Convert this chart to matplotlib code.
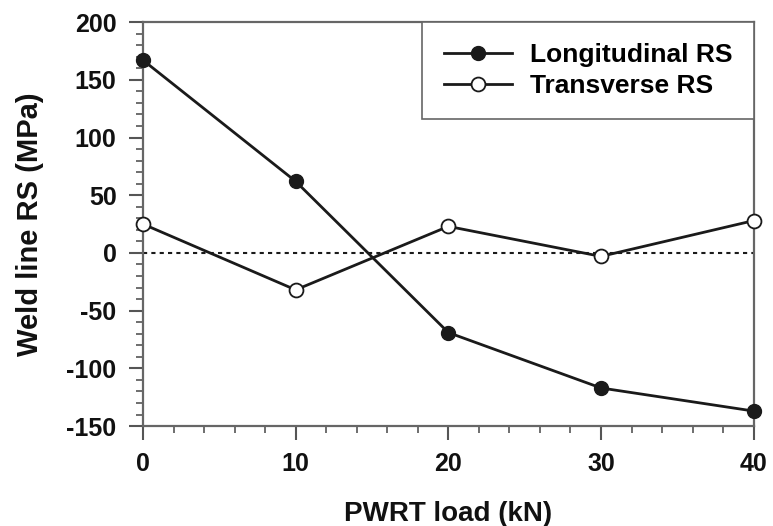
import matplotlib.pyplot as plt
from matplotlib.ticker import MultipleLocator

plt.rcParams['font.family'] = ['Liberation Sans', 'DejaVu Sans']
plt.rcParams['font.weight'] = 'bold'
plt.rcParams['axes.unicode_minus'] = False

# 数据：PWRT 载荷与焊缝残余应力
load_kn = [0, 10, 20, 30, 40]
longitudinal_rs = [167, 62, -69, -117, -137]
transverse_rs = [25, -32, 23, -3, 28]

fig = plt.figure(figsize=(7.73, 5.26), dpi=100)
ax = fig.add_axes([0.185, 0.19, 0.79, 0.768])

line_color = "#1a1a1a"
ax.axhline(0, color=line_color, linestyle=(0, (2, 2)), linewidth=1.5, zorder=1)
ax.plot(load_kn, longitudinal_rs, '-o', color=line_color, linewidth=2,
        markersize=10, markerfacecolor=line_color, label="Longitudinal RS", zorder=3, clip_on=False)
ax.plot(load_kn, transverse_rs, '-o', color=line_color, linewidth=2,
        markersize=10, markerfacecolor="white", markeredgewidth=1.3,
        label="Transverse RS", zorder=3, clip_on=False)

ax.set_xlim(0, 40)
ax.set_ylim(-150, 200)
ax.xaxis.set_major_locator(MultipleLocator(10))
ax.xaxis.set_minor_locator(MultipleLocator(2))
ax.yaxis.set_major_locator(MultipleLocator(50))
ax.yaxis.set_minor_locator(MultipleLocator(10))

ax.tick_params(which='major', direction='out', length=10, width=1.5, color="#555555",
               labelsize=18, pad=9, labelcolor="#111111")
ax.tick_params(which='minor', direction='out', length=5, width=1.2, color="#555555")
for sp in ax.spines.values():
    sp.set_color("#666666")
    sp.set_linewidth(1.6)

ax.set_xlabel("PWRT load (kN)", fontsize=20, fontweight='bold', labelpad=18, color="#111111")
ax.set_ylabel("Weld line RS (MPa)", fontsize=21, fontweight='bold', labelpad=16, color="#111111")

leg = ax.legend(loc='upper right', borderaxespad=0, fontsize=19, frameon=True,
                fancybox=False, edgecolor="#666666", handlelength=2.6, handletextpad=0.68,
                borderpad=0.8, labelspacing=0.25)
leg.get_frame().set_linewidth(1.2)
leg.get_frame().set_alpha(1)

fig.savefig("out.png", dpi=100)
